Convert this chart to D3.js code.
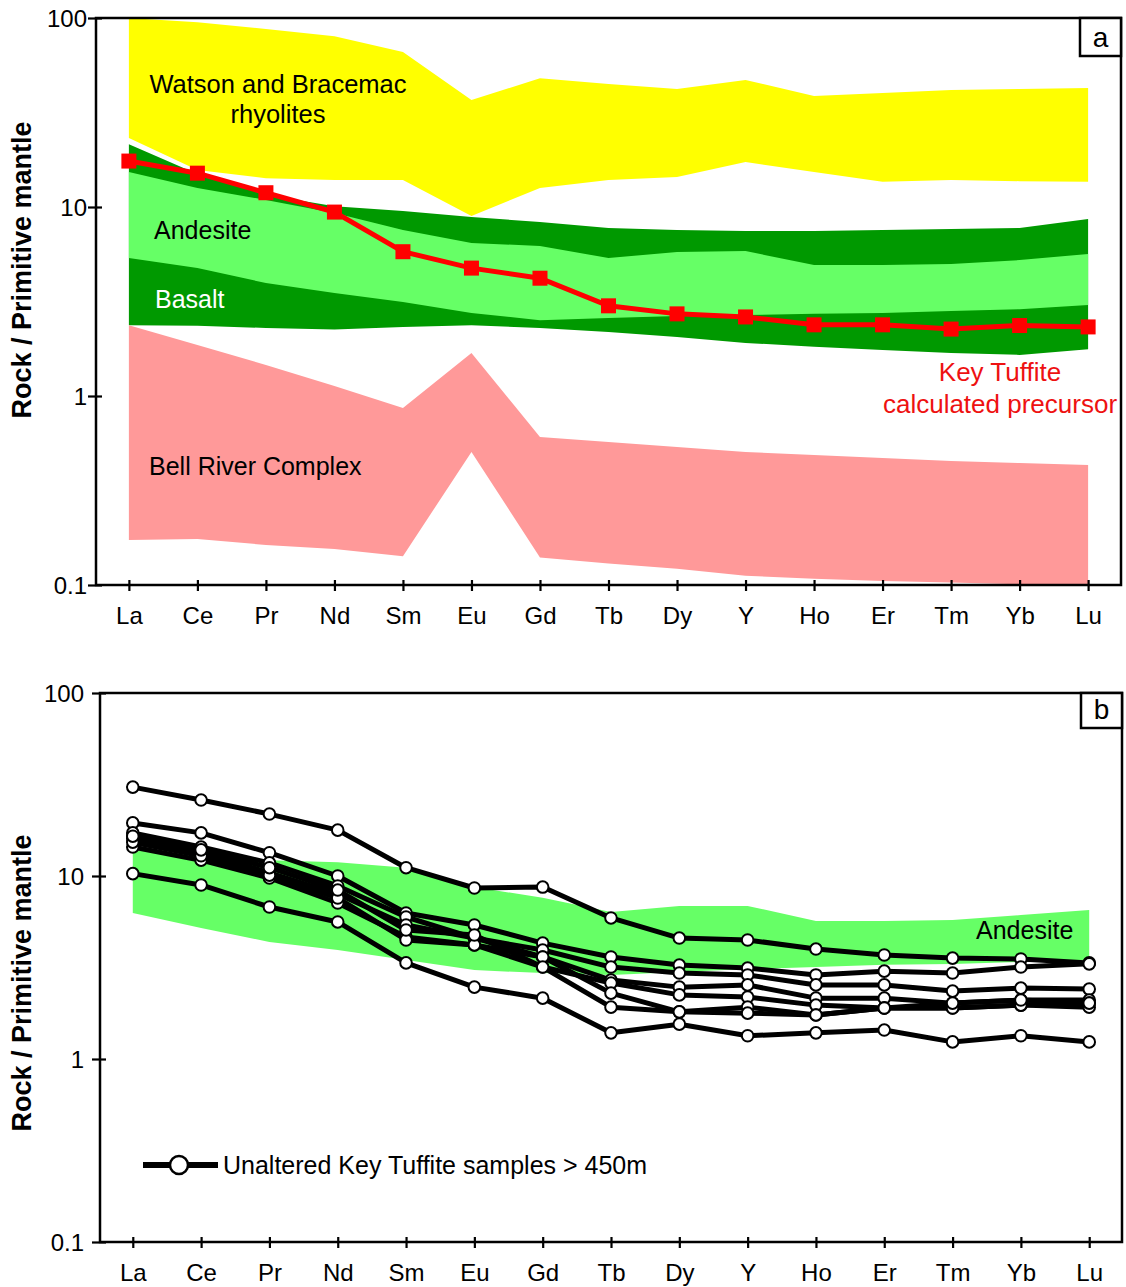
<!DOCTYPE html>
<html><head><meta charset="utf-8">
<script src="https://cdn.jsdelivr.net/npm/d3@7"></script>
<style>
body{margin:0;background:#fff}
svg{display:block}
text{font-family:"Liberation Sans",Arial,sans-serif}
</style>
</head><body>
<svg id="chart" width="1126" height="1287"></svg>
<script>
// ---------- data ----------
const elements = ["La","Ce","Pr","Nd","Sm","Eu","Gd","Tb","Dy","Y","Ho","Er","Tm","Yb","Lu"];
const yTickValues = [0.1, 1, 10, 100];
const yTickLabels = ["0.1", "1", "10", "100"];

// panel a bands
const rhyoliteUpper = [100, 95, 87.5, 80, 66, 36.8, 48, 44.8, 42.1, 47, 38.7, 40.1, 41.6, 42.1, 42.6];
const rhyoliteLower = [23.2, 15.7, 14.2, 13.9, 13.9, 8.97, 12.6, 13.9, 14.4, 17.3, 15.3, 13.6, 13.9, 13.7, 13.6];
const basaltUpper = [21.5, 14.95, 11.6, 10.1, 9.52, 8.86, 8.33, 7.74, 7.55, 7.46, 7.46, 7.55, 7.65, 7.74, 8.64];
const basaltLower = [2.37, 2.35, 2.29, 2.25, 2.32, 2.37, 2.29, 2.18, 2.05, 1.91, 1.82, 1.75, 1.69, 1.65, 1.77];
const andesiteUpperA = [15.3, 12.6, 10.9, 9.3, 7.55, 6.45, 6.22, 5.37, 5.78, 5.85, 4.93, 4.93, 5.0, 5.24, 5.64];
const andesiteLowerA = [5.37, 4.75, 3.96, 3.51, 3.14, 2.75, 2.52, 2.59, 2.65, 2.68, 2.72, 2.75, 2.82, 2.88, 3.03];
const bellRiverUpper = [2.37, 1.86, 1.46, 1.13, 0.865, 1.69, 0.607, 0.571, 0.537, 0.506, 0.488, 0.47, 0.453, 0.442, 0.431];
const bellRiverLower = [0.173, 0.175, 0.163, 0.155, 0.142, 0.506, 0.14, 0.13, 0.122, 0.112, 0.108, 0.105, 0.103, 0.101, 0.1];
const keyTuffitePrecursor = [17.5, 15.1, 11.9, 9.4, 5.8, 4.75, 4.2, 3.0, 2.72, 2.62, 2.38, 2.38, 2.26, 2.36, 2.32];

// panel b band
const andesiteUpperB = [13.9, 12.7, 12.2, 11.9, 11.1, 8.7, 7.6, 6.36, 6.86, 6.86, 5.68, 5.68, 5.75, 6.12, 6.52];
const andesiteLowerB = [6.28, 5.2, 4.36, 3.94, 3.48, 3.06, 2.95, 2.88, 2.99, 3.1, 3.18, 3.27, 3.3, 3.39, 3.48];

// panel b samples
const sample1 = [30.6, 26.0, 21.8, 17.8, 11.1, 8.6, 8.7, 5.9, 4.58, 4.47, 3.99, 3.70, 3.56, 3.52, 3.35];
const sample2 = [19.5, 17.2, 13.4, 10.0, 6.28, 5.40, 4.30, 3.61, 3.26, 3.14, 2.88, 3.02, 2.95, 3.18, 3.31];
const sample3 = [17.2, 14.4, 11.8, 8.82, 5.97, 4.58, 3.94, 3.18, 2.95, 2.88, 2.54, 2.54, 2.35, 2.44, 2.41];
const sample4 = [16.1, 13.5, 10.4, 7.97, 5.40, 4.58, 3.61, 2.70, 2.47, 2.54, 2.15, 2.15, 2.02, 2.10, 2.10];
const sample5 = [14.4, 12.2, 9.75, 7.12, 4.64, 4.2, 3.18, 2.60, 2.24, 2.18, 1.97, 1.90, 1.90, 1.97, 2.02];
const sample6 = [15.3, 12.9, 10.1, 7.58, 4.47, 4.2, 3.61, 2.29, 1.81, 1.92, 1.74, 1.90, 1.90, 1.97, 1.92];
const sample7 = [16.5, 13.9, 11.1, 8.38, 5.07, 4.76, 3.18, 1.92, 1.81, 1.78, 1.74, 1.90, 2.02, 2.10, 2.02];
const sample8 = [10.3, 8.93, 6.77, 5.61, 3.35, 2.47, 2.15, 1.39, 1.55, 1.34, 1.39, 1.44, 1.24, 1.34, 1.24];
const samples = [sample1, sample2, sample3, sample4, sample5, sample6, sample7, sample8];

// ---------- drawing ----------
const svg = d3.select("#chart");
const FONT_TICK = 24;

function makePanel(p) {
  const x = d3.scalePoint().domain(elements).range([p.left, p.right]).padding(0.48);
  const y = d3.scaleLog().domain([0.1, 100]).range([p.bottom, p.top]);
  const g = svg.append("g");
  const clipId = "clip" + p.name;
  svg.append("clipPath").attr("id", clipId)
    .append("rect").attr("x", p.left).attr("y", p.top)
    .attr("width", p.right - p.left).attr("height", p.bottom - p.top);
  const plot = g.append("g").attr("clip-path", `url(#${clipId})`);
  return {x, y, g, plot};
}

function band(P, upper, lower, color) {
  const area = d3.area()
    .x((d, i) => P.x(elements[i]))
    .y0((d, i) => P.y(lower[i]))
    .y1((d, i) => P.y(upper[i]));
  P.plot.append("path").datum(upper).attr("d", area).attr("fill", color).attr("stroke", "none");
}

function axes(P, p) {
  P.g.append("rect").attr("x", p.left).attr("y", p.top)
    .attr("width", p.right - p.left).attr("height", p.bottom - p.top)
    .attr("fill", "none").attr("stroke", "#000").attr("stroke-width", 2.5);
  const xa = P.g.append("g").attr("transform", `translate(0,${p.bottom})`)
    .call(d3.axisBottom(P.x).tickSize(5));
  xa.select(".domain").remove();
  xa.selectAll(".tick line").attr("y1", -5).attr("y2", 6).attr("stroke", "#000").attr("stroke-width", 2.2);
  xa.selectAll(".tick text").attr("y", 39).attr("dy", 0)
    .attr("font-size", FONT_TICK).attr("fill", "#000")
    .attr("font-family", '"Liberation Sans",Arial,sans-serif');
  const ya = P.g.append("g").attr("transform", `translate(${p.left},0)`)
    .call(d3.axisLeft(P.y).tickValues(yTickValues).tickFormat((d, i) => yTickLabels[i]).tickSize(7));
  ya.select(".domain").remove();
  ya.selectAll(".tick line").attr("x1", -8).attr("x2", 6).attr("stroke", "#000").attr("stroke-width", 2.2);
  ya.selectAll(".tick text").attr("x", -p.labelGap).attr("dy", "0.36em")
    .attr("font-size", FONT_TICK).attr("fill", "#000")
    .attr("font-family", '"Liberation Sans",Arial,sans-serif');
  P.g.append("text")
    .attr("transform", `translate(${p.titleX},${p.titleY}) rotate(-90)`)
    .attr("text-anchor", "middle").attr("font-weight", "bold").attr("font-size", 27)
    .text("Rock / Primitive mantle");
  P.g.append("rect").attr("x", p.right - 41).attr("y", p.top)
    .attr("width", 41).attr("height", p.letterH)
    .attr("fill", "#fff").attr("stroke", "#000").attr("stroke-width", 2.5);
  P.g.append("text").attr("x", p.right - 20.5).attr("y", p.top + p.letterH - 9)
    .attr("text-anchor", "middle").attr("font-size", 28).text(p.name);
}

function label(P, txt, x, y, opts = {}) {
  P.g.append("text").attr("x", x).attr("y", y)
    .attr("text-anchor", opts.anchor || "start")
    .attr("font-size", opts.size || 25)
    .attr("fill", opts.color || "#000")
    .text(txt);
}

// ----- panel a -----
const pa = {name: "a", left: 96, right: 1121, top: 18, bottom: 585, labelGap: 9, titleX: 31, titleY: 270, letterH: 38};
const A = makePanel(pa);
band(A, basaltUpper, basaltLower, "#009900");
band(A, andesiteUpperA, andesiteLowerA, "#66ff66");
band(A, rhyoliteUpper, rhyoliteLower, "#ffff00");
band(A, bellRiverUpper, bellRiverLower, "#ff9999");

const redLine = d3.line().x((d, i) => A.x(elements[i])).y(d => A.y(d));
A.plot.append("path").datum(keyTuffitePrecursor).attr("d", redLine)
  .attr("fill", "none").attr("stroke", "#ff0000").attr("stroke-width", 5);
A.plot.selectAll("rect.kt").data(keyTuffitePrecursor).join("rect").attr("class", "kt")
  .attr("x", (d, i) => A.x(elements[i]) - 7.5).attr("y", d => A.y(d) - 7.5)
  .attr("width", 15).attr("height", 15).attr("fill", "#ff0000");

label(A, "Watson and Bracemac", 278, 93, {anchor: "middle", size: 25.5});
label(A, "rhyolites", 278, 123, {anchor: "middle", size: 25.5});
label(A, "Andesite", 154, 239);
label(A, "Basalt", 155, 308, {color: "#ffffff"});
label(A, "Bell River Complex", 149, 475);
label(A, "Key Tuffite", 1000, 381, {anchor: "middle", color: "#ee1111", size: 26});
label(A, "calculated precursor", 1000, 413, {anchor: "middle", color: "#ee1111", size: 26});
axes(A, pa);

// ----- panel b -----
const pb = {name: "b", left: 100, right: 1122, top: 693, bottom: 1242, labelGap: 16, titleX: 31, titleY: 983, letterH: 35};
const B = makePanel(pb);
band(B, andesiteUpperB, andesiteLowerB, "#66ff66");

const sLine = d3.line().x((d, i) => B.x(elements[i])).y(d => B.y(d));
B.plot.selectAll("path.s").data(samples).join("path").attr("class", "s")
  .attr("d", sLine).attr("fill", "none").attr("stroke", "#000")
  .attr("stroke-width", 5).attr("stroke-linejoin", "round");
samples.forEach(s => {
  B.plot.append("g").selectAll("circle").data(s).join("circle")
    .attr("cx", (d, i) => B.x(elements[i])).attr("cy", d => B.y(d))
    .attr("r", 5.8).attr("fill", "#fff").attr("stroke", "#000").attr("stroke-width", 2);
});
label(B, "Andesite", 976, 939);

const lg = B.g.append("g");
lg.append("line").attr("x1", 143).attr("x2", 218).attr("y1", 1165).attr("y2", 1165)
  .attr("stroke", "#000").attr("stroke-width", 6);
lg.append("circle").attr("cx", 179).attr("cy", 1165).attr("r", 9)
  .attr("fill", "#fff").attr("stroke", "#000").attr("stroke-width", 2.5);
label(B, "Unaltered Key Tuffite samples > 450m", 223, 1174);
axes(B, pb);
</script>
</body></html>
